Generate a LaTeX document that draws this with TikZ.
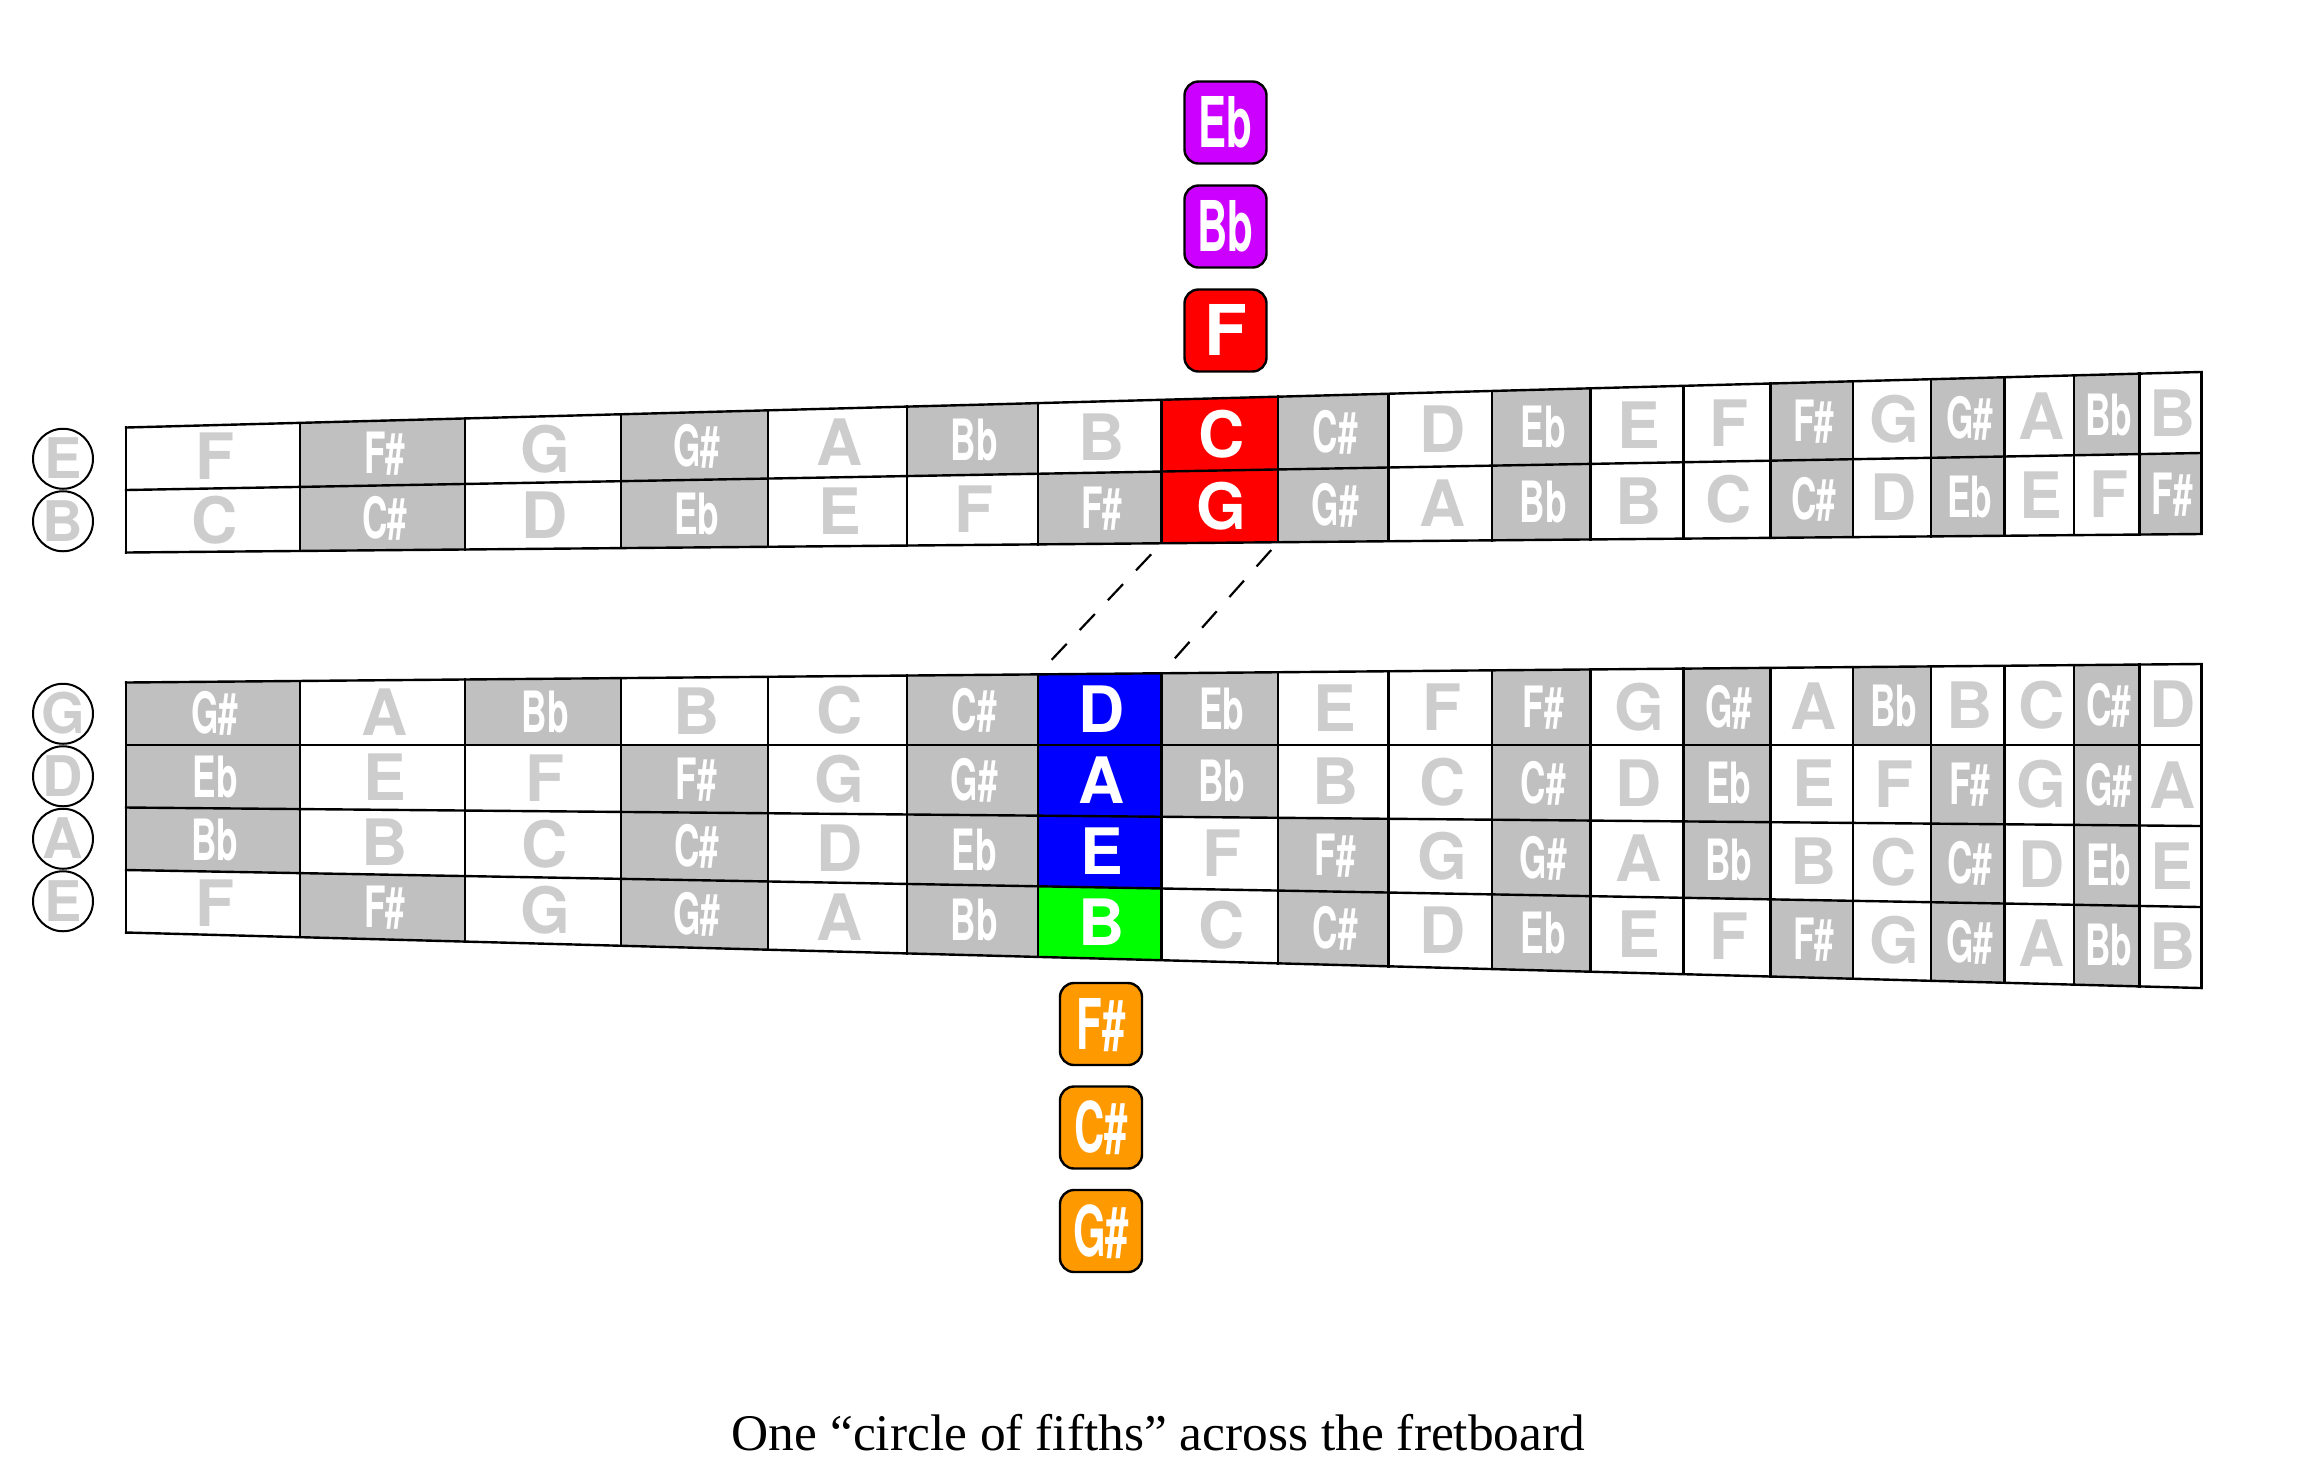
\documentclass[tikz,border=0pt]{standalone}
\usepackage{fontspec}
\setsansfont{TeX Gyre Heros}
\setmainfont{Liberation Serif}
\usepackage{graphicx}
\definecolor{accgray}{RGB}{192,192,192}
\definecolor{natgray}{RGB}{205,205,205}
\definecolor{myred}{RGB}{255,0,0}
\definecolor{myblue}{RGB}{0,0,255}
\definecolor{mygreen}{RGB}{0,255,0}
\definecolor{mypurple}{RGB}{204,0,255}
\definecolor{myorange}{RGB}{255,153,0}
\newcommand\sqz[1]{\raisebox{1.27pt}{\scalebox{0.55}[0.89]{#1}}}
\newcommand\bsqz[1]{\scalebox{0.6}[1]{#1}}
\newcommand\notename[1]{\ifcase#1\relax C\or\sqz{C\#}\or D\or\sqz{Eb}\or E\or F\or\sqz{F\#}\or G\or\sqz{G\#}\or A\or\sqz{Bb}\or B\fi}
\newcommand\cellfont{\sffamily\bfseries\fontsize{32}{33}\selectfont}
\newcommand\boxfont{\sffamily\bfseries\fontsize{35}{36}\selectfont}
\newcommand\circfont{\sffamily\bfseries\fontsize{28}{29}\selectfont}
\newcommand\capfont{\rmfamily\fontsize{25.7}{28}\selectfont}
\begin{document}
\begin{tikzpicture}[x=0.5pt,y=-0.5pt,
  gridline/.style={line width=1.2pt,line cap=rect,line join=miter},
  celltext/.style={inner sep=0pt,text height=23pt,text depth=0pt,font=\cellfont,xshift=1pt},
  strcirc/.style={circle,draw,line width=1pt,minimum size=30pt,inner sep=0pt,
     text height=20pt,text depth=0pt,text=natgray,font=\circfont},
  notebox/.style={draw,line width=1.2pt,rounded corners=7pt,minimum width=41pt,
     minimum height=41pt,inner sep=0pt,text height=25pt,text depth=0pt,text=white,font=\boxfont},
  dashline/.style={line width=1.1pt,dash pattern=on 11pt off 9.5pt,dash phase=10.5pt}]
\useasboundingbox (0,0) rectangle (2317,1458);
% cells
\foreach \s/\opn/\shf in {1/4/130,2/11/130,3/7/0,4/2/0,5/9/0,6/4/0}{
 \foreach \f in {1,...,19}{
  \pgfmathsetmacro\xa{126+3115*(1-2^(-(\f-1)/12))}
  \pgfmathsetmacro\xb{126+3115*(1-2^(-\f/12))}
  \pgfmathsetmacro\ha{62.5+(\xa-126)/2074*18.5}
  \pgfmathsetmacro\hb{62.5+(\xb-126)/2074*18.5}
  \pgfmathsetmacro\yta{745+(\s-4)*\ha-\shf}
  \pgfmathsetmacro\yba{745+(\s-3)*\ha-\shf}
  \pgfmathsetmacro\ytb{745+(\s-4)*\hb-\shf}
  \pgfmathsetmacro\ybb{745+(\s-3)*\hb-\shf}
  \pgfmathtruncatemacro\idx{mod(\opn+\f,12)}
  \pgfmathtruncatemacro\acc{(\idx==1||\idx==3||\idx==6||\idx==8||\idx==10)?1:0}
  \pgfmathtruncatemacro\kind{(\s<3&&\f==8)?2:((\s>2&&\s<6&&\f==7)?3:((\s==6&&\f==7)?4:\acc))}
  \edef\fc{\ifcase\kind white\or accgray\or myred\or myblue\or mygreen\fi}
  \edef\tc{\ifcase\kind natgray\else white\fi}
  \fill[fill=\fc] (\xa,\yta) -- (\xb,\ytb) -- (\xb,\ybb) -- (\xa,\yba) -- cycle;
  \node[celltext,text=\tc] (c\s-\f) at ({(\xa+\xb)/2},{(\yta+\yba+\ytb+\ybb)/4}) {\notename{\idx}};
 }
}
% grid lines
\pgfmathsetmacro\xend{126+3115*(1-2^(-19/12))}
\pgfmathsetmacro\hend{62.5+(\xend-126)/2074*18.5}
\foreach \k in {0,1,2}{
  \draw[gridline] (126,{745+(\k-3)*62.5-130}) -- (\xend,{745+(\k-3)*\hend-130});
}
\foreach \k in {2,...,6}{
  \draw[gridline] (126,{745+(\k-3)*62.5}) -- (\xend,{745+(\k-3)*\hend});
}
\foreach \f in {0,...,19}{
  \pgfmathsetmacro\xx{126+3115*(1-2^(-\f/12))}
  \pgfmathsetmacro\hx{62.5+(\xx-126)/2074*18.5}
  \draw[gridline] (\xx,{745-3*\hx-130}) -- (\xx,{745-\hx-130});
  \draw[gridline] (\xx,{745-\hx}) -- (\xx,{745+3*\hx});
}
% string names
\node[strcirc] (sE1) at (63,458.75) {E};
\node[strcirc] (sB) at (63,521.25) {B};
\node[strcirc] (sG) at (63,713.75) {G};
\node[strcirc] (sD) at (63,776.25) {D};
\node[strcirc] (sA) at (63,838.75) {A};
\node[strcirc] (sE6) at (63,901.25) {E};
% connector coordinates
\pgfmathsetmacro\xs{126+3115*(1-2^(-6/12))}
\pgfmathsetmacro\xse{126+3115*(1-2^(-7/12))}
\pgfmathsetmacro\xei{126+3115*(1-2^(-8/12))}
\pgfmathsetmacro\hs{62.5+(\xs-126)/2074*18.5}
\pgfmathsetmacro\hse{62.5+(\xse-126)/2074*18.5}
\pgfmathsetmacro\hei{62.5+(\xei-126)/2074*18.5}
\coordinate (gbl) at (\xse,{745-\hse-130});
\coordinate (gbr) at (\xei,{745-\hei-130});
\coordinate (dtl) at (\xs,{745-\hs});
\coordinate (dtr) at (\xse,{745-\hse});
\draw[dashline] (dtl) -- (gbl);
\draw[dashline] (dtr) -- (gbr);
% boxes above
\node[notebox,fill=mypurple] (bEb) at (1225.5,122.5) {\bsqz{Eb}};
\node[notebox,fill=mypurple] (bBb) at (1225.5,226.5) {\bsqz{Bb}};
\node[notebox,fill=myred] (bF) at (1225.5,330.5) {F};
% boxes below
\node[notebox,fill=myorange] (bFs) at (1101,1024) {\bsqz{F\#}};
\node[notebox,fill=myorange] (bCs) at (1101,1127.5) {\bsqz{C\#}};
\node[notebox,fill=myorange] (bGs) at (1101,1231) {\bsqz{G\#}};
% caption
\node[anchor=base,inner sep=0pt,font=\capfont] (cap) at (1158.5,1450) {One “circle of fifths” across the fretboard};
\end{tikzpicture}
\end{document}
